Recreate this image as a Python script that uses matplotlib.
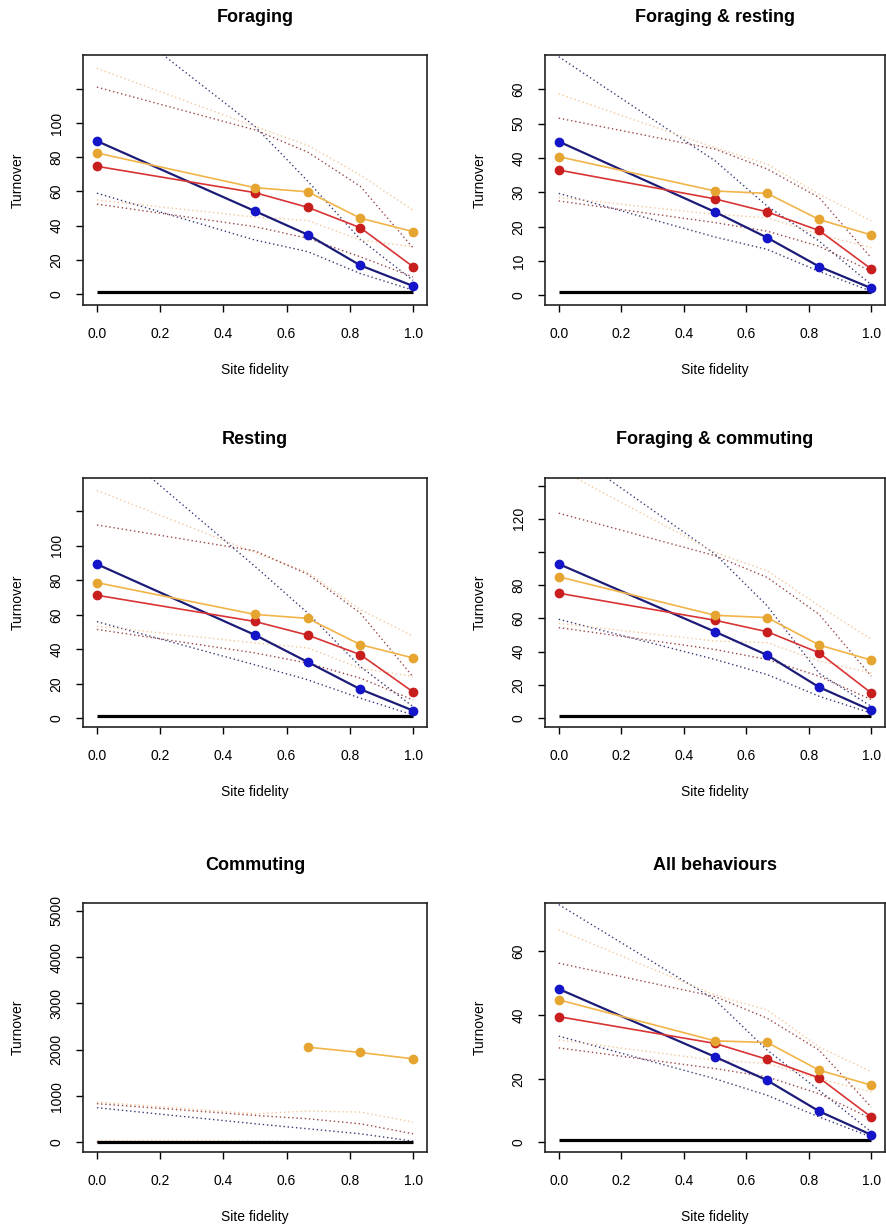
import numpy as np
import matplotlib
matplotlib.use('Agg')
import matplotlib.pyplot as plt

plt.rcParams['font.family'] = ['Liberation Sans', 'DejaVu Sans']

nan = np.nan

# site fidelity levels (x axis)
site_fidelity = [0.0, 0.5, 0.667, 0.833, 1.0]

titles = ['Foraging', 'Foraging & resting', 'Resting',
          'Foraging & commuting', 'Commuting', 'All behaviours']

# mean turnover per panel (same order as titles)
blue_mean = [
    [89.5, 48.5, 34.7, 16.8, 4.7],
    [44.8, 24.3, 16.8, 8.4, 2.1],
    [89.3, 48.3, 32.6, 16.9, 4.5],
    [92.8, 52.0, 37.9, 18.6, 4.6],
    [nan, nan, nan, nan, nan],
    [48.2, 26.9, 19.5, 9.8, 2.4],
]
orange_mean = [
    [82.5, 62.2, 59.8, 44.4, 36.5],
    [40.4, 30.4, 29.7, 22.1, 17.6],
    [78.6, 60.2, 57.9, 42.7, 35.0],
    [85.1, 61.9, 60.5, 44.0, 34.9],
    [nan, nan, 2056, 1941, 1804],
    [44.8, 31.9, 31.4, 22.7, 18.0],
]
red_mean = [
    [74.7, 59.3, 50.7, 38.8, 16.0],
    [36.5, 28.1, 24.3, 18.9, 7.7],
    [71.3, 56.1, 48.2, 36.9, 15.3],
    [75.2, 58.9, 52.0, 39.3, 15.1],
    [nan, nan, nan, nan, nan],
    [39.5, 31.1, 26.1, 20.3, 8.0],
]

# dotted upper / lower bounds
blue_upper = [
    [170, 98, 66, 32, 8],
    [69.5, 39.2, 26.0, 15.8, 3.1],
    [166, 88, 61, 30, 6.8],
    [165, 98.8, 67.6, 27, 7],
    [750, 404, 296, 188, 29],
    [74.7, 44.8, 29.0, 16.4, 3.3],
]
blue_lower = [
    [59, 31.6, 24.8, 12, 2.3],
    [29.7, 17.0, 13.4, 7.0, 1.2],
    [56, 31, 22.3, 11.7, 2],
    [59.5, 35.3, 26.2, 13.1, 3],
    [5, 3, 2, 1, 0],
    [33.4, 20.0, 14.8, 8.0, 1.7],
]
orange_upper = [
    [132, 98, 87, 69.6, 49],
    [58.7, 43.0, 38.2, 29.5, 21.7],
    [132, 96, 84.5, 63, 47.6],
    [150, 99.8, 88.7, 67.6, 47.4],
    [873, 620, 678, 656, 440],
    [66.8, 46.3, 41.6, 30.0, 22.2],
]
orange_lower = [
    [55, 45, 43, 31.6, 27.7],
    [28.5, 23.6, 22.6, 17.8, 13.9],
    [53.4, 43.7, 40.8, 29, 24.3],
    [57, 46.4, 45.4, 34.3, 27.2],
    [40, 30, 25, 15, 10],
    [32.2, 25.8, 24.8, 20.0, 15.9],
]
red_upper = [
    [121, 96, 83, 63, 27],
    [51.6, 42.6, 36.8, 28.5, 10.9],
    [112, 97, 83.5, 61, 24],
    [123.4, 97.8, 84.7, 62.5, 25.2],
    [837, 584, 512, 404, 188],
    [56.3, 45.8, 39.0, 29.0, 11.1],
]
red_lower = [
    [52.6, 39.4, 32.6, 21.8, 10],
    [27.5, 21.2, 18.7, 14.3, 7.0],
    [51.5, 37.9, 32, 23.3, 10.7],
    [54.5, 41.3, 35.3, 25.2, 11.1],
    [10, 6, 4, 2, 1],
    [29.7, 23.2, 20.6, 15.3, 7.5],
]
baseline = [1.0, 0.9, 1.4, 1.4, 0.0, 0.8]

ytick_values = [
    [0, 20, 40, 60, 80, 100, 120],
    [0, 10, 20, 30, 40, 50, 60],
    [0, 20, 40, 60, 80, 100, 120],
    [0, 20, 40, 60, 80, 100, 120, 140],
    [0, 1000, 2000, 3000, 4000, 5000],
    [0, 20, 40, 60],
]
ytick_labels = [
    ['0', '20', '40', '60', '80', '100', ''],
    ['0', '10', '20', '30', '40', '50', '60'],
    ['0', '20', '40', '60', '80', '100', ''],
    ['0', '20', '40', '60', '80', '', '120', ''],
    ['0', '1000', '2000', '3000', '4000', '5000'],
    ['0', '20', '40', '60'],
]
ylims = [(-6.4, 139.8), (-2.8, 70), (-5, 139.2), (-5.4, 144.6), (-205, 5165), (-3, 75.2)]

W, H = 887, 1231
fig = plt.figure(figsize=(W / 100, H / 100), dpi=100)

col_px = [(83, 427), (545, 885)]
row_px = [(55, 305), (478, 727), (903, 1152)]

blue_line, blue_pt = '#1c1c78', '#1414c8'
red_line, red_pt = '#d83434', '#c81e1e'
orange_line, orange_pt = '#f2b448', '#e6a530'
blue_dot, red_dot, orange_dot = '#3a3a78', '#9a4848', '#f3c79a'
dot = (0, (1, 2))

for i in range(6):
    r, c = divmod(i, 2)
    x0, x1 = col_px[c]
    y0, y1 = row_px[r]
    ax = fig.add_axes([x0 / W, 1 - y1 / H, (x1 - x0) / W, (y1 - y0) / H])

    ax.plot(site_fidelity, blue_upper[i], color=blue_dot, lw=1, ls=dot)
    ax.plot(site_fidelity, blue_lower[i], color=blue_dot, lw=1, ls=dot)
    ax.plot(site_fidelity, orange_upper[i], color=orange_dot, lw=1, ls=dot)
    ax.plot(site_fidelity, orange_lower[i], color=orange_dot, lw=1, ls=dot)
    ax.plot(site_fidelity, red_upper[i], color=red_dot, lw=1, ls=dot)
    ax.plot(site_fidelity, red_lower[i], color=red_dot, lw=1, ls=dot)

    ax.plot([site_fidelity[0], site_fidelity[-1]], [baseline[i], baseline[i]],
            color='black', lw=2.3, solid_capstyle='butt')

    ax.plot(site_fidelity, blue_mean[i], color=blue_line, lw=1.6,
            marker='o', ms=6, mfc=blue_pt, mec=blue_pt)
    ax.plot(site_fidelity, red_mean[i], color=red_line, lw=1.2,
            marker='o', ms=6, mfc=red_pt, mec=red_pt)
    ax.plot(site_fidelity, orange_mean[i], color=orange_line, lw=1.2,
            marker='o', ms=6, mfc=orange_pt, mec=orange_pt)

    ax.set_xlim(-0.044, 1.044)
    ax.set_ylim(*ylims[i])
    ax.set_xticks([0, 0.2, 0.4, 0.6, 0.8, 1.0])
    ax.set_xticklabels(['0.0', '0.2', '0.4', '0.6', '0.8', '1.0'])
    ax.set_yticks(ytick_values[i])
    ax.set_yticklabels(ytick_labels[i], rotation=90, va='center')
    ax.tick_params(axis='x', direction='out', length=5, width=1, pad=11, labelsize=10)
    ax.tick_params(axis='y', direction='out', length=5, width=1, pad=9, labelsize=10)
    for s in ax.spines.values():
        s.set_linewidth(1.2)
        s.set_color('#222222')

    h = y1 - y0
    w = x1 - x0
    ax.text(0.5, 1 + 38 / h, titles[i], transform=ax.transAxes, ha='center',
            va='center', fontsize=13, fontweight='bold')
    ax.text(0.5, -65 / h, 'Site fidelity', transform=ax.transAxes, ha='center',
            va='center', fontsize=10)
    ax.text(-65 / w, 0.5, 'Turnover', transform=ax.transAxes, ha='center',
            va='center', rotation=90, fontsize=10)

fig.savefig('out.png', dpi=100)
